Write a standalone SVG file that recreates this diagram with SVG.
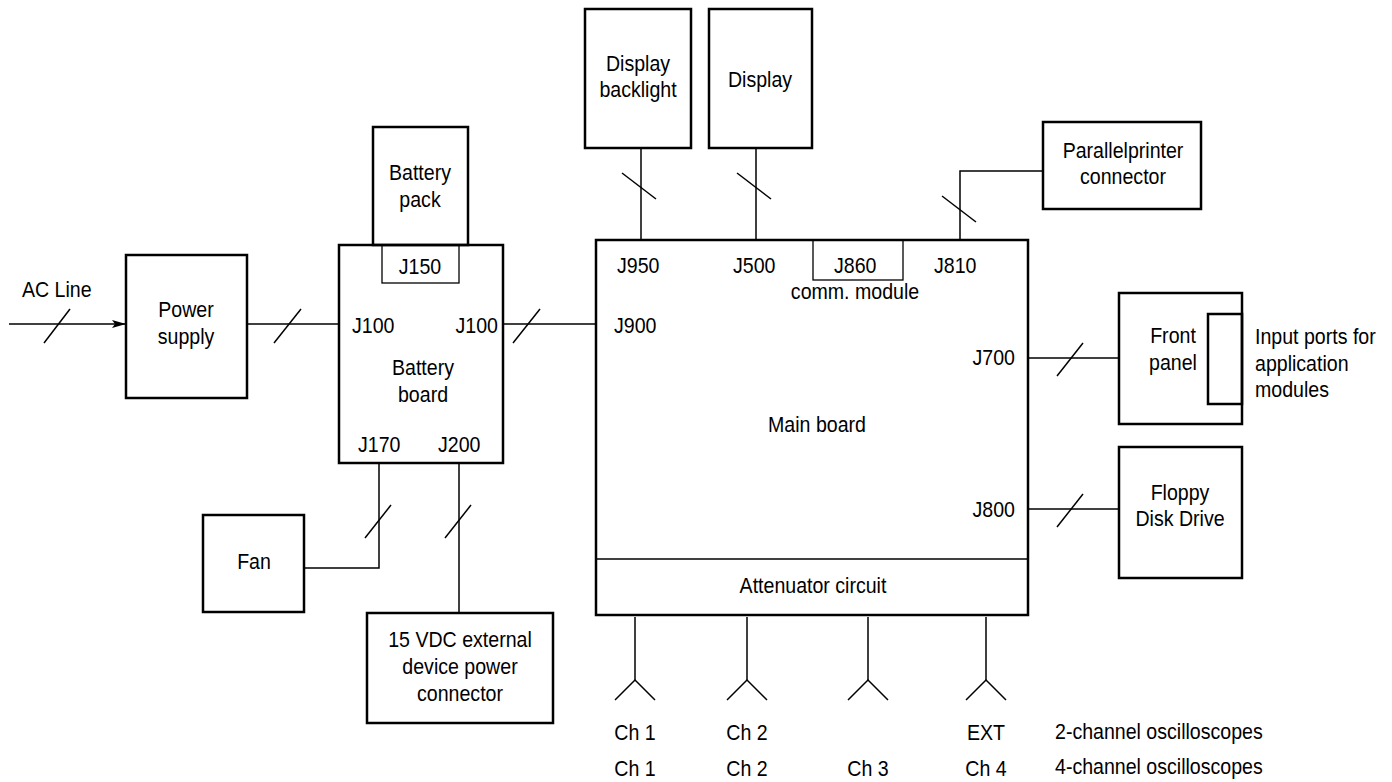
<svg xmlns="http://www.w3.org/2000/svg" width="1392" height="782" viewBox="0 0 1392 782">
<defs>
<style>
.box{fill:none;stroke:#000;stroke-width:2.5}
.thin{fill:none;stroke:#000;stroke-width:1.3}
.ln{fill:none;stroke:#000;stroke-width:1.5}
text{font-family:"Liberation Sans","Arial",sans-serif;font-size:22.5px;fill:#000}
.c{text-anchor:middle}
.e{text-anchor:end}
</style>
<marker id="arr" markerWidth="14" markerHeight="10" refX="13" refY="5" orient="auto" markerUnits="userSpaceOnUse">
<path d="M0,1 L14,5 L0,9 L3,5 Z" fill="#000"/>
</marker>
</defs>
<rect width="1392" height="782" fill="#fff"/>

<g id="connectors">
<line class="ln" x1="9" y1="324" x2="125" y2="324" marker-end="url(#arr)"/>
<line class="ln" x1="44" y1="343" x2="70" y2="309"/>
<line class="ln" x1="247" y1="324" x2="339" y2="324"/>
<line class="ln" x1="274" y1="343" x2="301" y2="309"/>
<line class="ln" x1="503" y1="324" x2="596" y2="324"/>
<line class="ln" x1="513" y1="343" x2="540" y2="309"/>
<polyline class="ln" points="379,463 379,568 304,568"/>
<line class="ln" x1="365" y1="538" x2="391" y2="505"/>
<line class="ln" x1="459" y1="463" x2="459" y2="613"/>
<line class="ln" x1="445" y1="538" x2="471" y2="505"/>
<line class="ln" x1="641" y1="148" x2="641" y2="240"/>
<line class="ln" x1="622" y1="173" x2="656" y2="199"/>
<line class="ln" x1="756" y1="148" x2="756" y2="240"/>
<line class="ln" x1="737" y1="173" x2="771" y2="199"/>
<polyline class="ln" points="960,240 960,171 1043,171"/>
<line class="ln" x1="942" y1="196" x2="976" y2="222"/>
<line class="ln" x1="1028" y1="358" x2="1119" y2="358"/>
<line class="ln" x1="1057" y1="376" x2="1083" y2="343"/>
<line class="ln" x1="1028" y1="509" x2="1119" y2="509"/>
<line class="ln" x1="1057" y1="527" x2="1083" y2="494"/>
<g id="probes">
<polyline class="ln" points="615,700 635,680 655,700"/><line class="ln" x1="635" y1="617" x2="635" y2="680"/>
<polyline class="ln" points="727,700 747,680 767,700"/><line class="ln" x1="747" y1="617" x2="747" y2="680"/>
<polyline class="ln" points="848,700 868,680 888,700"/><line class="ln" x1="868" y1="617" x2="868" y2="680"/>
<polyline class="ln" points="966,700 986,680 1006,700"/><line class="ln" x1="986" y1="617" x2="986" y2="680"/>
</g>
</g>

<g id="ac-line"><text transform="translate(22,297) scale(.87,1)">AC Line</text></g>

<g id="power-supply">
<rect class="box" x="126" y="255" width="121" height="143"/>
<text class="c" transform="translate(186,317) scale(.87,1)">Power</text>
<text class="c" transform="translate(186,344) scale(.87,1)">supply</text>
</g>

<g id="battery-pack">
<rect class="box" x="373" y="127" width="95" height="118"/>
<text class="c" transform="translate(420,180) scale(.87,1)">Battery</text>
<text class="c" transform="translate(420,207) scale(.87,1)">pack</text>
</g>

<g id="battery-board">
<rect class="box" x="339" y="245" width="164" height="218"/>
<rect class="thin" x="382" y="245" width="77" height="38"/>
<text class="c" transform="translate(420,274) scale(.87,1)">J150</text>
<text transform="translate(352,333) scale(.87,1)">J100</text>
<text class="e" transform="translate(498,333) scale(.87,1)">J100</text>
<text class="c" transform="translate(423,375) scale(.87,1)">Battery</text>
<text class="c" transform="translate(423,402) scale(.87,1)">board</text>
<text transform="translate(358,452) scale(.87,1)">J170</text>
<text transform="translate(438,452) scale(.87,1)">J200</text>
</g>

<g id="fan">
<rect class="box" x="203" y="515" width="101" height="97"/>
<text class="c" transform="translate(254,569) scale(.87,1)">Fan</text>
</g>

<g id="ext-power">
<rect class="box" x="367" y="613" width="186" height="110"/>
<text class="c" transform="translate(460,647) scale(.87,1)">15 VDC external</text>
<text class="c" transform="translate(460,674) scale(.87,1)">device power</text>
<text class="c" transform="translate(460,701) scale(.87,1)">connector</text>
</g>

<g id="display-backlight">
<rect class="box" x="585" y="9" width="106" height="139"/>
<text class="c" transform="translate(638,71) scale(.87,1)">Display</text>
<text class="c" transform="translate(638,97) scale(.87,1)">backlight</text>
</g>

<g id="display">
<rect class="box" x="709" y="9" width="103" height="139"/>
<text class="c" transform="translate(760,87) scale(.87,1)">Display</text>
</g>

<g id="parallel-printer">
<rect class="box" x="1043" y="122" width="158" height="87"/>
<text class="c" transform="translate(1123,158) scale(.87,1)">Parallelprinter</text>
<text class="c" transform="translate(1123,184) scale(.87,1)">connector</text>
</g>

<g id="main-board">
<rect class="box" x="596" y="240" width="432" height="375"/>
<rect class="thin" x="813" y="240" width="90" height="40"/>
<line class="thin" x1="596" y1="559" x2="1028" y2="559"/>
<text transform="translate(617,273) scale(.87,1)">J950</text>
<text transform="translate(733,273) scale(.87,1)">J500</text>
<text transform="translate(834,273) scale(.87,1)">J860</text>
<text transform="translate(934,273) scale(.87,1)">J810</text>
<text class="c" transform="translate(855,299) scale(.87,1)">comm. module</text>
<text transform="translate(614,333) scale(.87,1)">J900</text>
<text class="e" transform="translate(1015,365) scale(.87,1)">J700</text>
<text class="e" transform="translate(1015,517) scale(.87,1)">J800</text>
<text class="c" transform="translate(817,432) scale(.87,1)">Main board</text>
<text class="c" transform="translate(813,593) scale(.87,1)">Attenuator circuit</text>
</g>

<g id="front-panel">
<rect class="box" x="1119" y="293" width="123" height="131"/>
<rect class="box" x="1208" y="314" width="34" height="90"/>
<text class="c" transform="translate(1173,343) scale(.87,1)">Front</text>
<text class="c" transform="translate(1173,370) scale(.87,1)">panel</text>
<text transform="translate(1255,344) scale(.87,1)">Input ports for</text>
<text transform="translate(1255,371) scale(.87,1)">application</text>
<text transform="translate(1255,397) scale(.87,1)">modules</text>
</g>

<g id="floppy">
<rect class="box" x="1119" y="447" width="123" height="131"/>
<text class="c" transform="translate(1180,500) scale(.87,1)">Floppy</text>
<text class="c" transform="translate(1180,526) scale(.87,1)">Disk Drive</text>
</g>

<g id="channel-labels">
<text class="c" transform="translate(635,740) scale(.87,1)">Ch 1</text>
<text class="c" transform="translate(747,740) scale(.87,1)">Ch 2</text>
<text class="c" transform="translate(986,740) scale(.87,1)">EXT</text>
<text transform="translate(1055,739) scale(.87,1)">2-channel oscilloscopes</text>
<text class="c" transform="translate(635,776) scale(.87,1)">Ch 1</text>
<text class="c" transform="translate(747,776) scale(.87,1)">Ch 2</text>
<text class="c" transform="translate(868,776) scale(.87,1)">Ch 3</text>
<text class="c" transform="translate(986,776) scale(.87,1)">Ch 4</text>
<text transform="translate(1055,774) scale(.87,1)">4-channel oscilloscopes</text>
</g>
</svg>
